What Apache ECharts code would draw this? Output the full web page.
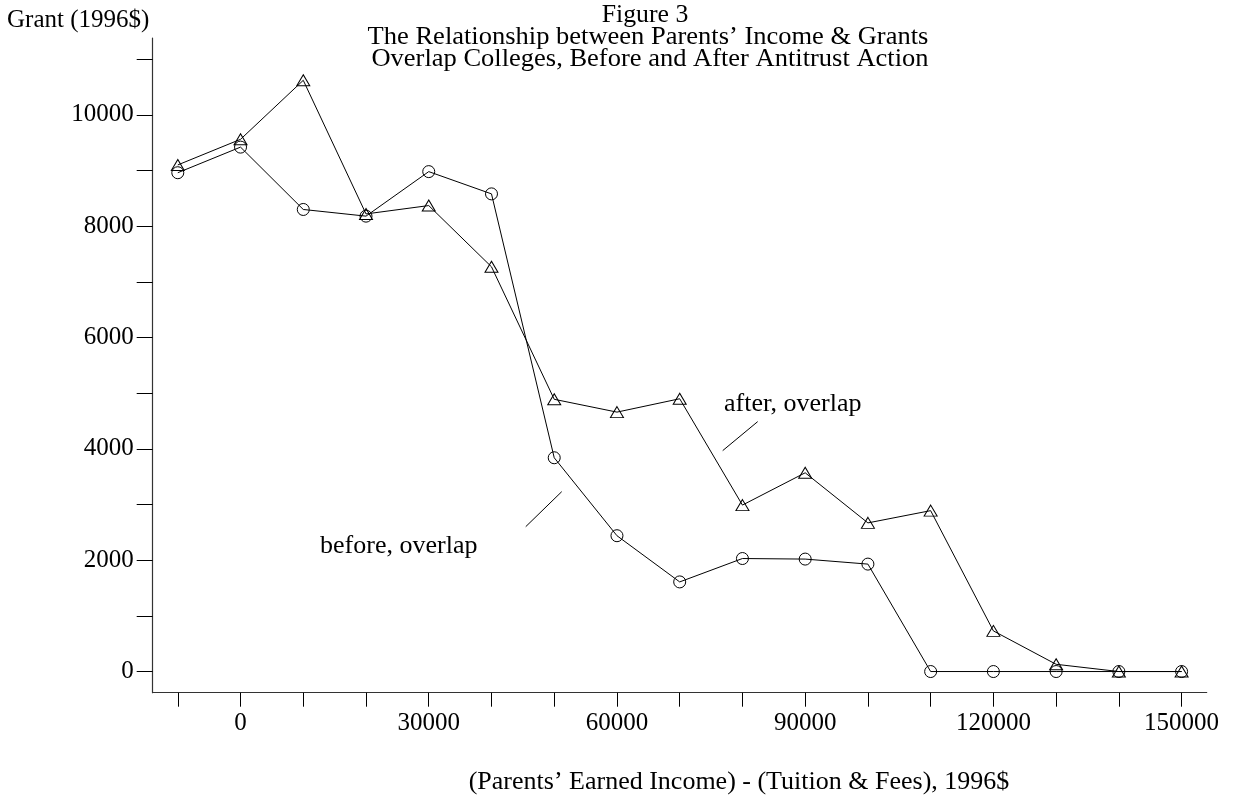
<!DOCTYPE html>
<html>
<head>
<meta charset="utf-8">
<script src="https://cdn.jsdelivr.net/npm/echarts@6/dist/echarts.min.js"></script>
<style>
html,body{margin:0;padding:0;background:#fff;}
#c{width:1233px;height:799px;}
</style>
</head>
<body>
<div id="c"></div>
<script>
// ---- data ----
const incomes = [-10000, 0, 10000, 20000, 30000, 40000, 50000, 60000, 70000, 80000, 90000, 100000, 110000, 120000, 130000, 140000, 150000];
const beforeGrant = [8960, 9420, 8300, 8180, 8980, 8580, 3840, 2440, 1610, 2030, 2020, 1930, 0, 0, 0, 0, 0];
const afterGrant  = [9100, 9560, 10620, 8220, 8370, 7270, 4890, 4660, 4900, 2990, 3570, 2670, 2890, 730, 130, 0, 0];

const xTickValues = [-10000, 0, 10000, 20000, 30000, 40000, 50000, 60000, 70000, 80000, 90000, 100000, 110000, 120000, 130000, 140000, 150000];
const xLabelValues = [0, 30000, 60000, 90000, 120000, 150000];
const yTickValues = [0, 1000, 2000, 3000, 4000, 5000, 6000, 7000, 8000, 9000, 10000, 11000];
const yLabelValues = [0, 2000, 4000, 6000, 8000, 10000];

const titleLines = ['Figure 3', 'The Relationship between Parents\u2019 Income & Grants', 'Overlap Colleges, Before and After Antitrust Action'];
const yAxisTitle = 'Grant (1996$)';
const xAxisTitle = '(Parents\u2019 Earned Income) - (Tuition & Fees), 1996$';

// annotation anchors in data units
const afterLabelText = 'after, overlap';
const afterLabelAt = [77060, 4789];
const afterPointer = [[76853, 3968], [82430, 4489]];
const beforeLabelText = 'before, overlap';
const beforeLabelAt = [12677, 2255];
const beforePointer = [[45458, 2602], [51195, 3231]];

// ---- chart ----
const FONT = '"Liberation Serif", "Times New Roman", Times, serif';
const chart = echarts.init(document.getElementById('c'), null, {renderer: 'canvas'});

const option = {
  animation: false,
  backgroundColor: '#fff',
  grid: {left: 152.7, right: 26.3, top: 38, bottom: 106.3, containLabel: false},
  xAxis: {
    type: 'value',
    min: -14000, max: 154000,
    splitLine: {show: false},
    axisLine: {show: true, onZero: false, lineStyle: {color: '#333', width: 1.2}},
    axisTick: {show: true, inside: false, length: 14, customValues: xTickValues, lineStyle: {color: '#000', width: 1}},
    axisLabel: {show: true, customValues: xLabelValues, margin: 18, color: '#000', fontFamily: FONT, fontSize: 25,
      formatter: v => String(v)}
  },
  yAxis: {
    type: 'value',
    min: -380, max: 11380,
    splitLine: {show: false},
    axisLine: {show: true, onZero: false, lineStyle: {color: '#333', width: 1.2}},
    axisTick: {show: true, inside: false, length: 16, customValues: yTickValues, lineStyle: {color: '#000', width: 1}},
    axisLabel: {show: true, customValues: yLabelValues, margin: 19, color: '#000', fontFamily: FONT, fontSize: 25,
      formatter: v => String(v)}
  },
  series: [
    {
      name: 'before, overlap',
      type: 'line',
      data: incomes.map((x, i) => [x, beforeGrant[i]]),
      symbol: 'circle',
      symbolSize: 12,
      showAllSymbol: true,
      lineStyle: {color: '#000', width: 1},
      itemStyle: {color: 'rgba(0,0,0,0)', borderColor: '#000', borderWidth: 1},
      emphasis: {disabled: true},
      z: 3
    },
    {
      name: 'after, overlap',
      type: 'line',
      data: incomes.map((x, i) => [x, afterGrant[i]]),
      symbol: 'triangle',
      symbolSize: [13, 11],
      showAllSymbol: true,
      lineStyle: {color: '#000', width: 1},
      itemStyle: {color: 'rgba(0,0,0,0)', borderColor: '#000', borderWidth: 1},
      emphasis: {disabled: true},
      z: 4
    }
  ]
};
chart.setOption(option);

const px = p => chart.convertToPixel({gridIndex: 0}, p);

function textEl(str, x, y, align, sx) {
  return {
    type: 'text', x: x, y: y, scaleX: sx || 1, z: 10,
    style: {
      text: str, fill: '#000', fontFamily: FONT, fontSize: 25,
      align: align, textAlign: align, verticalAlign: 'middle', textVerticalAlign: 'middle'
    }
  };
}
function lineEl(seg) {
  const a = px(seg[0]), b = px(seg[1]);
  return {type: 'line', z: 10, shape: {x1: a[0], y1: a[1], x2: b[0], y2: b[1]}, style: {stroke: '#000', lineWidth: 1}};
}

const aL = px(afterLabelAt), bL = px(beforeLabelAt);
const graphics = [
  textEl(titleLines[0], 645, 15, 'center', 1.03),
  textEl(titleLines[1], 648, 37, 'center', 1.06),
  textEl(titleLines[2], 650, 59, 'center', 1.06),
  textEl(yAxisTitle, 7, 20, 'left', 1),
  textEl(xAxisTitle, 739, 782, 'center', 1.04),
  textEl(afterLabelText, aL[0], aL[1], 'left', 1.04),
  textEl(beforeLabelText, bL[0], bL[1], 'left', 1.04),
  lineEl(afterPointer),
  lineEl(beforePointer)
];
chart.setOption({graphic: {elements: graphics}});
</script>
</body>
</html>
